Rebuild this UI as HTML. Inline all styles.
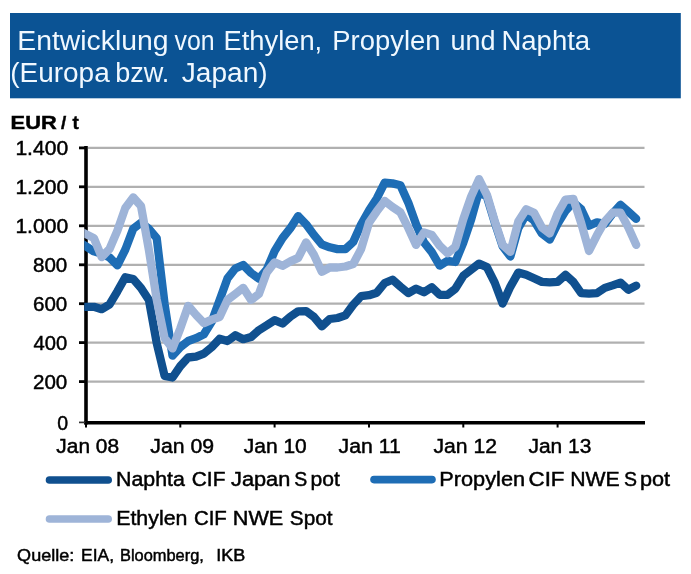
<!DOCTYPE html>
<html><head><meta charset="utf-8"><title>Entwicklung von Ethylen, Propylen und Naphta</title>
<style>
html,body{margin:0;padding:0;background:#fff;}
svg{display:block;}
text{font-family:"Liberation Sans",Arial,sans-serif;}
.ax{font-size:19.5px;fill:#000;letter-spacing:0.25px;}
.ti{font-size:27px;fill:#fff;}
.lg{font-size:19.5px;fill:#000;}
</style></head><body>
<svg width="691" height="574" viewBox="0 0 691 574">
<rect x="0" y="0" width="691" height="574" fill="#ffffff"/>
<rect x="10" y="13" width="670.8" height="85.3" fill="#0b5394"/>
<line x1="88" x2="644.5" y1="381.6" y2="381.6" stroke="#b0b0b0" stroke-width="2.3"/>
<line x1="88" x2="644.5" y1="342.6" y2="342.6" stroke="#b0b0b0" stroke-width="2.3"/>
<line x1="88" x2="644.5" y1="303.7" y2="303.7" stroke="#b0b0b0" stroke-width="2.3"/>
<line x1="88" x2="644.5" y1="264.8" y2="264.8" stroke="#b0b0b0" stroke-width="2.3"/>
<line x1="88" x2="644.5" y1="225.8" y2="225.8" stroke="#b0b0b0" stroke-width="2.3"/>
<line x1="88" x2="644.5" y1="186.8" y2="186.8" stroke="#b0b0b0" stroke-width="2.3"/>
<line x1="88" x2="644.5" y1="147.9" y2="147.9" stroke="#b0b0b0" stroke-width="2.3"/>

<line x1="86" x2="86" y1="146" y2="424.5" stroke="#000" stroke-width="3.6"/>
<line x1="84.2" x2="645" y1="422.7" y2="422.7" stroke="#000" stroke-width="3.6"/>
<line x1="79" x2="86" y1="422.4" y2="422.4" stroke="#333" stroke-width="1.7"/>
<line x1="79" x2="86" y1="381.6" y2="381.6" stroke="#000" stroke-width="2.8"/>
<line x1="79" x2="86" y1="342.6" y2="342.6" stroke="#000" stroke-width="2.8"/>
<line x1="79" x2="86" y1="303.7" y2="303.7" stroke="#000" stroke-width="2.8"/>
<line x1="79" x2="86" y1="264.8" y2="264.8" stroke="#000" stroke-width="2.8"/>
<line x1="79" x2="86" y1="225.8" y2="225.8" stroke="#000" stroke-width="2.8"/>
<line x1="79" x2="86" y1="186.8" y2="186.8" stroke="#000" stroke-width="2.8"/>
<line x1="79" x2="86" y1="147.9" y2="147.9" stroke="#000" stroke-width="2.8"/>
<line x1="86.0" x2="86.0" y1="422" y2="427.5" stroke="#000" stroke-width="2"/>
<line x1="180.3" x2="180.3" y1="422" y2="427.5" stroke="#000" stroke-width="2"/>
<line x1="274.6" x2="274.6" y1="422" y2="427.5" stroke="#000" stroke-width="2"/>
<line x1="369.0" x2="369.0" y1="422" y2="427.5" stroke="#000" stroke-width="2"/>
<line x1="463.3" x2="463.3" y1="422" y2="427.5" stroke="#000" stroke-width="2"/>
<line x1="557.6" x2="557.6" y1="422" y2="427.5" stroke="#000" stroke-width="2"/>

<clipPath id="pc"><rect x="84.3" y="130" width="572" height="295"/></clipPath>
<g fill="none" stroke-linejoin="round" stroke-linecap="round" stroke-width="8.3" clip-path="url(#pc)">
<path d="M83.0 306.8 L86.0 306.8 L93.9 306.8 L101.7 309.2 L109.6 304.4 L117.4 291.3 L125.3 277.3 L133.2 279.1 L141.0 287.9 L148.9 300.1 L156.7 343.1 L164.6 375.9 L172.5 377.5 L180.3 366.1 L188.2 357.5 L196.0 356.7 L203.9 353.6 L211.8 347.1 L219.6 338.8 L227.5 341.0 L235.3 335.3 L243.2 339.2 L251.1 337.1 L258.9 330.2 L266.8 325.3 L274.6 320.2 L282.5 323.5 L290.4 316.6 L298.2 311.3 L306.1 311.1 L313.9 316.8 L321.8 326.4 L329.7 319.0 L337.5 318.0 L345.4 315.4 L353.2 304.8 L361.1 296.2 L369.0 295.2 L376.8 292.7 L384.7 283.0 L392.5 279.7 L400.4 286.6 L408.3 293.1 L416.1 288.7 L424.0 292.3 L431.8 287.2 L439.7 294.8 L447.6 294.8 L455.4 288.7 L463.3 275.8 L471.1 269.7 L479.0 263.6 L486.9 267.1 L494.7 282.6 L502.6 303.5 L510.4 286.6 L518.3 272.6 L526.2 274.8 L534.0 278.3 L541.9 281.9 L549.7 282.3 L557.6 281.9 L565.5 274.8 L573.3 281.9 L581.2 293.1 L589.0 293.6 L596.9 293.1 L604.8 287.9 L612.6 285.4 L620.5 282.6 L628.3 289.7 L636.2 285.6" stroke="#10508f"/>
<path d="M83.0 244.4 L86.0 246.3 L93.9 251.4 L101.7 253.8 L109.6 257.5 L117.4 265.4 L125.3 249.6 L133.2 228.8 L141.0 222.7 L148.9 228.8 L156.7 238.1 L164.6 304.1 L172.5 355.7 L180.3 347.1 L188.2 341.0 L196.0 338.2 L203.9 334.3 L211.8 321.5 L219.6 300.1 L227.5 278.3 L235.3 268.5 L243.2 265.0 L251.1 273.0 L258.9 278.7 L266.8 269.3 L274.6 251.2 L282.5 238.1 L290.4 228.2 L298.2 216.1 L306.1 224.3 L313.9 234.9 L321.8 244.3 L329.7 247.3 L337.5 249.1 L345.4 249.1 L353.2 242.0 L361.1 224.5 L369.0 210.6 L376.8 198.4 L384.7 182.7 L392.5 183.4 L400.4 185.2 L408.3 202.7 L416.1 224.3 L424.0 242.4 L431.8 252.2 L439.7 265.6 L447.6 260.8 L455.4 262.0 L463.3 242.6 L471.1 219.6 L479.0 191.3 L486.9 196.8 L494.7 222.3 L502.6 246.3 L510.4 256.5 L518.3 228.2 L526.2 214.5 L534.0 220.6 L541.9 233.5 L549.7 239.6 L557.6 223.9 L565.5 210.9 L573.3 202.3 L581.2 209.2 L589.0 225.7 L596.9 222.3 L604.8 223.9 L612.6 213.5 L620.5 204.9 L628.3 211.7 L636.2 218.8" stroke="#1e6db5"/>
<path d="M83.0 232.6 L86.0 234.1 L93.9 238.1 L101.7 257.1 L109.6 248.9 L117.4 230.6 L125.3 208.0 L133.2 197.4 L141.0 206.0 L148.9 250.0 L156.7 299.5 L164.6 338.0 L172.5 348.4 L180.3 328.4 L188.2 305.8 L196.0 314.9 L203.9 323.1 L211.8 319.6 L219.6 317.0 L227.5 299.9 L235.3 294.0 L243.2 287.8 L251.1 299.9 L258.9 294.0 L266.8 272.4 L274.6 262.4 L282.5 265.8 L290.4 261.4 L298.2 257.9 L306.1 242.4 L313.9 254.8 L321.8 271.8 L329.7 267.5 L337.5 267.5 L345.4 266.5 L353.2 264.0 L361.1 249.1 L369.0 222.7 L376.8 211.3 L384.7 200.9 L392.5 207.0 L400.4 212.3 L408.3 228.0 L416.1 244.9 L424.0 232.4 L431.8 234.9 L439.7 245.7 L447.6 253.2 L455.4 246.7 L463.3 219.2 L471.1 196.6 L479.0 179.1 L486.9 194.8 L494.7 221.0 L502.6 244.9 L510.4 251.8 L518.3 221.6 L526.2 209.2 L534.0 212.7 L541.9 227.4 L549.7 233.5 L557.6 213.5 L565.5 199.6 L573.3 198.8 L581.2 223.1 L589.0 251.0 L596.9 235.3 L604.8 221.4 L612.6 212.7 L620.5 212.7 L628.3 227.4 L636.2 244.9" stroke="#9eb4d8"/>
</g>
<g stroke-linecap="round" stroke-width="7.6" fill="none">
<line x1="49.5" x2="108.2" y1="480" y2="480" stroke="#10508f"/>
<line x1="374" x2="432" y1="479.6" y2="479.6" stroke="#1e6db5"/>
<line x1="49.5" x2="108.2" y1="519" y2="519" stroke="#9eb4d8"/>
</g>
<text x="17.3" y="50.0" font-size="27" fill="#f0f8ff" textLength="151.2" lengthAdjust="spacingAndGlyphs">Entwicklung</text>
<text x="174.5" y="50.0" font-size="27" fill="#f0f8ff" textLength="40.1" lengthAdjust="spacingAndGlyphs">von</text>
<text x="223.5" y="50.0" font-size="27" fill="#f0f8ff" textLength="98.7" lengthAdjust="spacingAndGlyphs">Ethylen,</text>
<text x="332.3" y="50.0" font-size="27" fill="#f0f8ff" textLength="108.2" lengthAdjust="spacingAndGlyphs">Propylen</text>
<text x="450.4" y="50.0" font-size="27" fill="#f0f8ff" textLength="45.0" lengthAdjust="spacingAndGlyphs">und</text>
<text x="501.4" y="50.0" font-size="27" fill="#f0f8ff" textLength="88.8" lengthAdjust="spacingAndGlyphs">Naphta</text>
<text x="10.2" y="81.7" font-size="27" fill="#f0f8ff" textLength="99.5" lengthAdjust="spacingAndGlyphs">(Europa</text>
<text x="115.2" y="81.7" font-size="27" fill="#f0f8ff" textLength="54.2" lengthAdjust="spacingAndGlyphs">bzw.</text>
<text x="181.8" y="81.7" font-size="27" fill="#f0f8ff" textLength="85.9" lengthAdjust="spacingAndGlyphs">Japan)</text>
<text x="10.6" y="128.8" font-size="18.8" font-weight="bold" stroke="#000" stroke-width="0.45" textLength="46.1" lengthAdjust="spacingAndGlyphs">EUR</text>
<text x="61.0" y="128.8" font-size="18.8" font-weight="bold" stroke="#000" stroke-width="0.45">/</text>
<text x="72.5" y="128.8" font-size="18.8" font-weight="bold" stroke="#000" stroke-width="0.45">t</text>
<text x="57.2" y="429.7" font-size="19.5" stroke="#000" stroke-width="0.45">0</text>
<text x="33.0" y="388.9" font-size="19.5" stroke="#000" stroke-width="0.45" textLength="34.3" lengthAdjust="spacingAndGlyphs">200</text>
<text x="33.5" y="349.9" font-size="19.5" stroke="#000" stroke-width="0.45" textLength="33.7" lengthAdjust="spacingAndGlyphs">400</text>
<text x="33.0" y="311.0" font-size="19.5" stroke="#000" stroke-width="0.45" textLength="34.3" lengthAdjust="spacingAndGlyphs">600</text>
<text x="33.0" y="272.1" font-size="19.5" stroke="#000" stroke-width="0.45" textLength="34.3" lengthAdjust="spacingAndGlyphs">800</text>
<text x="15.4" y="233.1" font-size="19.5" stroke="#000" stroke-width="0.45" textLength="52.8" lengthAdjust="spacingAndGlyphs">1.000</text>
<text x="15.4" y="194.2" font-size="19.5" stroke="#000" stroke-width="0.45" textLength="52.8" lengthAdjust="spacingAndGlyphs">1.200</text>
<text x="15.4" y="155.2" font-size="19.5" stroke="#000" stroke-width="0.45" textLength="52.8" lengthAdjust="spacingAndGlyphs">1.400</text>
<text x="56.3" y="453.2" font-size="19.5" stroke="#000" stroke-width="0.45" textLength="62.8" lengthAdjust="spacingAndGlyphs">Jan 08</text>
<text x="150.3" y="453.2" font-size="19.5" stroke="#000" stroke-width="0.45" textLength="63.7" lengthAdjust="spacingAndGlyphs">Jan 09</text>
<text x="243.8" y="453.2" font-size="19.5" stroke="#000" stroke-width="0.45" textLength="63.0" lengthAdjust="spacingAndGlyphs">Jan 10</text>
<text x="338.6" y="453.2" font-size="19.5" stroke="#000" stroke-width="0.45" textLength="62.1" lengthAdjust="spacingAndGlyphs">Jan 11</text>
<text x="433.5" y="453.2" font-size="19.5" stroke="#000" stroke-width="0.45" textLength="63.5" lengthAdjust="spacingAndGlyphs">Jan 12</text>
<text x="528.5" y="453.2" font-size="19.5" stroke="#000" stroke-width="0.45" textLength="62.9" lengthAdjust="spacingAndGlyphs">Jan 13</text>
<text x="116.1" y="486.3" font-size="19.5" stroke="#000" stroke-width="0.45" textLength="68.8" lengthAdjust="spacingAndGlyphs">Naphta</text>
<text x="191.8" y="486.3" font-size="19.5" stroke="#000" stroke-width="0.45" textLength="33.6" lengthAdjust="spacingAndGlyphs">CIF</text>
<text x="231.0" y="486.3" font-size="19.5" stroke="#000" stroke-width="0.45" textLength="59.3" lengthAdjust="spacingAndGlyphs">Japan</text>
<text x="294.3" y="486.3" font-size="19.5" stroke="#000" stroke-width="0.45">S</text>
<text x="310.5" y="486.3" font-size="19.5" stroke="#000" stroke-width="0.45" textLength="29.3" lengthAdjust="spacingAndGlyphs">pot</text>
<text x="439.3" y="486.0" font-size="19.5" stroke="#000" stroke-width="0.45" textLength="85.8" lengthAdjust="spacingAndGlyphs">Propylen</text>
<text x="528.5" y="486.0" font-size="19.5" stroke="#000" stroke-width="0.45" textLength="36.0" lengthAdjust="spacingAndGlyphs">CIF</text>
<text x="570.2" y="486.0" font-size="19.5" stroke="#000" stroke-width="0.45" textLength="49.5" lengthAdjust="spacingAndGlyphs">NWE</text>
<text x="624.1" y="486.0" font-size="19.5" stroke="#000" stroke-width="0.45">S</text>
<text x="639.9" y="486.0" font-size="19.5" stroke="#000" stroke-width="0.45" textLength="30.1" lengthAdjust="spacingAndGlyphs">pot</text>
<text x="116.2" y="525.3" font-size="19.5" stroke="#000" stroke-width="0.45" textLength="71.2" lengthAdjust="spacingAndGlyphs">Ethylen</text>
<text x="193.9" y="525.3" font-size="19.5" stroke="#000" stroke-width="0.45" textLength="32.9" lengthAdjust="spacingAndGlyphs">CIF</text>
<text x="232.8" y="525.3" font-size="19.5" stroke="#000" stroke-width="0.45" textLength="50.5" lengthAdjust="spacingAndGlyphs">NWE</text>
<text x="289.8" y="525.3" font-size="19.5" stroke="#000" stroke-width="0.45" textLength="42.7" lengthAdjust="spacingAndGlyphs">Spot</text>
<text x="17.1" y="561.0" font-size="16.3" stroke="#000" stroke-width="0.45" textLength="57.2" lengthAdjust="spacingAndGlyphs">Quelle:</text>
<text x="81.0" y="561.0" font-size="16.3" stroke="#000" stroke-width="0.45" textLength="33.0" lengthAdjust="spacingAndGlyphs">EIA,</text>
<text x="120.0" y="561.0" font-size="16.3" stroke="#000" stroke-width="0.45" textLength="83.9" lengthAdjust="spacingAndGlyphs">Bloomberg,</text>
<text x="216.3" y="561.0" font-size="16.3" stroke="#000" stroke-width="0.45" textLength="29.0" lengthAdjust="spacingAndGlyphs">IKB</text>

</svg>
</body></html>
